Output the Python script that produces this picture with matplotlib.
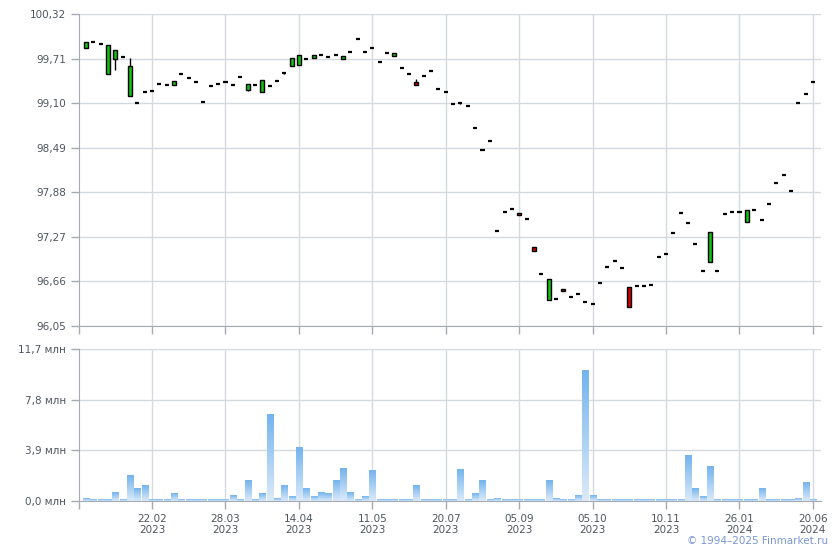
import matplotlib
matplotlib.use("Agg")
import matplotlib.pyplot as plt
import numpy as np

# --- data ---
open_ = [99.855, 99.937, 99.91, 99.499, 99.704, 99.732, 99.198, 99.102, 99.257, 99.27,
         99.362, 99.348, 99.348, 99.499, 99.444, 99.393, 99.116, 99.335, 99.362, 99.393,
         99.348, 99.458, 99.28, 99.348, 99.253, 99.339, 99.403, 99.513, 99.608, 99.622,
         99.704, 99.718, 99.759, 99.732, 99.759, 99.704, 99.80, 99.978, 99.80, 99.855,
         99.663, 99.786, 99.745, 99.581, 99.499, 99.389, 99.471, 99.54, 99.294, 99.253,
         99.088, 99.102, 99.061, 98.76, 98.459, 98.582, 97.35, 97.61, 97.651, 97.60,
         97.514, 97.131, 96.762, 96.406, 96.42, 96.556, 96.447, 96.488, 96.379, 96.351,
         96.639, 96.857, 96.94, 96.844, 96.584, 96.598, 96.598, 96.611, 96.994, 97.036,
         97.323, 97.597, 97.46, 97.172, 96.803, 96.926, 96.803, 97.583, 97.61, 97.61,
         97.473, 97.638, 97.501, 97.72, 98.007, 98.117, 97.898, 99.102, 99.225, 99.389]
close = [99.937, 99.937, 99.91, 99.896, 99.827, 99.732, 99.608, 99.102, 99.257, 99.27,
         99.362, 99.348, 99.403, 99.499, 99.444, 99.393, 99.116, 99.335, 99.362, 99.393,
         99.348, 99.458, 99.362, 99.348, 99.417, 99.339, 99.403, 99.513, 99.712, 99.753,
         99.704, 99.753, 99.759, 99.732, 99.759, 99.74, 99.80, 99.978, 99.80, 99.855,
         99.663, 99.786, 99.786, 99.581, 99.499, 99.348, 99.471, 99.54, 99.294, 99.253,
         99.088, 99.102, 99.061, 98.76, 98.459, 98.582, 97.35, 97.61, 97.651, 97.57,
         97.514, 97.071, 96.762, 96.693, 96.42, 96.529, 96.447, 96.488, 96.379, 96.351,
         96.639, 96.857, 96.94, 96.844, 96.31, 96.598, 96.598, 96.611, 96.994, 97.036,
         97.323, 97.597, 97.46, 97.172, 96.803, 97.336, 96.803, 97.583, 97.61, 97.61,
         97.638, 97.638, 97.501, 97.72, 98.007, 98.117, 97.898, 99.102, 99.225, 99.389]
# wicks that stick out of the bodies: index -> (low, high)
wicks = {4: (99.548, None), 6: (None, 99.718), 22: (99.266, None),
         27: (99.50, None), 45: (None, 99.43), 51: (99.09, None)}

volume = [0.23, 0.1, 0.1, 0.1, 0.69, 0.1, 2.0, 1.0, 1.16, 0.1,
          0.1, 0.1, 0.54, 0.1, 0.1, 0.1, 0.1, 0.1, 0.1, 0.1,
          0.46, 0.1, 1.54, 0.1, 0.54, 6.63, 0.18, 1.23, 0.31, 4.09,
          1.0, 0.31, 0.62, 0.54, 1.54, 2.47, 0.69, 0.1, 0.31, 2.31,
          0.1, 0.1, 0.1, 0.1, 0.1, 1.16, 0.1, 0.1, 0.1, 0.1,
          0.1, 2.39, 0.1, 0.54, 1.54, 0.1, 0.23, 0.1, 0.1, 0.1,
          0.1, 0.1, 0.1, 1.54, 0.18, 0.1, 0.1, 0.39, 10.02, 0.39,
          0.1, 0.1, 0.1, 0.1, 0.1, 0.1, 0.1, 0.1, 0.1, 0.1,
          0.1, 0.1, 3.47, 0.93, 0.31, 2.62, 0.1, 0.1, 0.1, 0.1,
          0.1, 0.1, 1.0, 0.1, 0.1, 0.1, 0.1, 0.23, 1.39, 0.1]

tick_idx = [9, 19, 29, 39, 49, 59, 69, 79, 89, 99]
tick_labels = ["22.02\n2023", "28.03\n2023", "14.04\n2023", "11.05\n2023", "20.07\n2023",
               "05.09\n2023", "05.10\n2023", "10.11\n2023", "26.01\n2024", "20.06\n2024"]
price_ticks = [96.05, 96.66, 97.27, 97.88, 98.49, 99.10, 99.71, 100.32]
vol_ticks = [0.0, 3.9, 7.8, 11.7]

GRID = "#d5dadf"
SPINE = "#a6aab2"
TXT = "#50565e"
XLIM = (-0.95, 100.1)

fig = plt.figure(figsize=(8.4, 5.5), dpi=100)
ax = fig.add_axes([79/840, 1-326/550, 742/840, 312/550])
axv = fig.add_axes([79/840, 1-501/550, 742/840, 152/550])

def style(a):
    for s in ["top", "right"]:
        a.spines[s].set_visible(False)
    for s in ["left", "bottom"]:
        a.spines[s].set_color(SPINE)
    a.set_xlim(*XLIM)
    a.set_xticks(tick_idx)
    a.set_xticks([XLIM[0]], minor=True)
    a.grid(True, color=GRID, linewidth=1)
    a.set_axisbelow(True)
    a.tick_params(axis="both", which="both", length=6, color=SPINE, labelcolor=TXT,
                  labelsize=7.5, width=1)

# --- candles ---
style(ax)
w = 0.55
for i in range(len(open_)):
    o, c = open_[i], close[i]
    lo, hi = wicks.get(i, (None, None))
    if hi is not None:
        ax.vlines(i, max(o, c), hi, color="black", linewidth=1, zorder=3)
    if lo is not None:
        ax.vlines(i, lo, min(o, c), color="black", linewidth=1, zorder=3)
    if abs(c - o) < 0.005:
        ax.hlines(o, i - w/2, i + w/2, color="black", linewidth=1.6, zorder=4)
    else:
        col = "#11c011" if c > o else "#d00000"
        ax.add_patch(plt.Rectangle((i - w/2, min(o, c)), w, abs(c - o),
                                   facecolor=col, edgecolor="black", linewidth=1, zorder=4))
ax.set_ylim(price_ticks[0], price_ticks[-1])
ax.set_yticks(price_ticks)
ax.set_yticklabels([f"{v:.2f}".replace(".", ",") for v in price_ticks])
ax.set_xticklabels([])

# --- volume bars with vertical gradient ---
style(axv)
grad = np.linspace(1, 0, 64).reshape(-1, 1)
cmap = matplotlib.colors.LinearSegmentedColormap.from_list("vol", ["#dbeaf9", "#74b4ee"])
bw = 0.82
for i, v in enumerate(volume):
    axv.imshow(grad, extent=[i - bw/2, i + bw/2, 0, v], aspect="auto", cmap=cmap,
               vmin=0, vmax=1, zorder=2, interpolation="bilinear")
axv.set_xlim(*XLIM)
axv.set_ylim(0, 11.7)
axv.set_yticks(vol_ticks)
axv.set_yticklabels([f"{v:.1f}".replace(".", ",") + " млн" for v in vol_ticks])
axv.set_xticklabels(tick_labels, linespacing=1.1)

fig.text(0.986, 0.016, "© 1994–2025 Finmarket.ru", ha="right", va="center",
         color="#7a96d8", fontsize=7.5)

fig.savefig("out.png", dpi=100)
